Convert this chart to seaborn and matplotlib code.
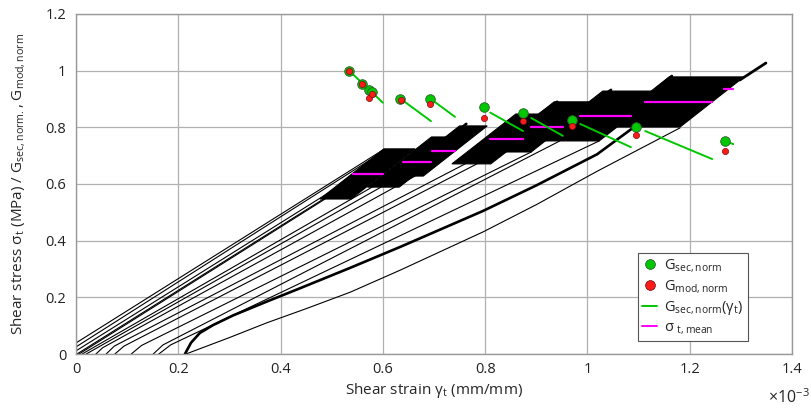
import numpy as np
import pandas as pd
import matplotlib
matplotlib.use("Agg")
import matplotlib.pyplot as plt
from matplotlib.lines import Line2D
from matplotlib.patches import Polygon
import seaborn as sns

# ---------------- data (strain in 1e-3 mm/mm, stress in MPa) ----------------
x_ticks = [0, 0.2, 0.4, 0.6, 0.8, 1.0, 1.2, 1.4]
x_tick_labels = ["0", "0.2", "0.4", "0.6", "0.8", "1", "1.2", "1.4"]
y_ticks = [0, 0.2, 0.4, 0.6, 0.8, 1.0, 1.2]
y_tick_labels = ["0", "0.2", "0.4", "0.6", "0.8", "1", "1.2"]

# loading curves (thin black)
curve_strain = {
    "U1": [0.000, 0.600], "U2": [0.000, 0.575], "U3": [0.000, 0.540],
    "U4": [0.002, 0.512], "U5": [0.006, 0.487], "U6": [0.012, 0.579],
    "U7": [0.020, 0.614], "M1": [0.039, 0.052, 0.663],
    "M2": [0.059, 0.075, 0.761], "M3": [0.076, 0.094, 0.829],
    "M4": [0.108, 0.128, 0.890], "M5": [0.151, 0.170, 0.946],
    "M6": [0.162, 0.185, 1.023],
    "LOW": [0.215, 0.300, 0.373, 0.450, 0.536, 0.634, 0.796, 0.900, 1.019, 1.181],
}
curve_stress = {
    "U1": [0.039, 0.720], "U2": [0.025, 0.685], "U3": [0.011, 0.621],
    "U4": [0.000, 0.579], "U5": [0.000, 0.547], "U6": [0.000, 0.589],
    "U7": [0.000, 0.607], "M1": [0.000, 0.022, 0.628],
    "M2": [0.000, 0.028, 0.671], "M3": [0.000, 0.028, 0.713],
    "M4": [0.000, 0.030, 0.713], "M5": [0.000, 0.032, 0.752],
    "M6": [0.000, 0.032, 0.752],
    "LOW": [0.000, 0.058, 0.110, 0.160, 0.218, 0.296, 0.431, 0.527, 0.645, 0.798],
}
# thick (noisy) loading curve
thick_strain = [0.213, 0.225, 0.242, 0.268, 0.307, 0.373, 0.438, 0.536, 0.634, 0.796, 0.900, 1.019, 1.089]
thick_stress = [0.000, 0.040, 0.074, 0.102, 0.136, 0.185, 0.232, 0.304, 0.378, 0.505, 0.595, 0.705, 0.798]

# peak excursions above the loop blocks
tail_strain = [[0.735, 0.763], [0.907, 0.941], [1.017, 1.046], [1.136, 1.165], [1.298, 1.349]]
tail_stress = [[0.770, 0.812], [0.847, 0.890], [0.893, 0.932], [0.939, 0.981], [0.967, 1.027]]

# cyclic loop blocks: bottom y, bottom x-range, top y, top x-range
blk_bot_y = [0.547, 0.589, 0.628, 0.671, 0.713, 0.752, 0.801]
blk_bot_x0 = [0.477, 0.570, 0.625, 0.735, 0.810, 0.905, 1.035]
blk_bot_x1 = [0.538, 0.632, 0.679, 0.811, 0.890, 1.023, 1.181]
blk_top_y = [0.724, 0.766, 0.805, 0.847, 0.890, 0.928, 0.978]
blk_top_x0 = [0.602, 0.695, 0.750, 0.860, 0.935, 1.030, 1.160]
blk_top_x1 = [0.663, 0.757, 0.804, 0.937, 1.015, 1.148, 1.306]

# mean stress lines
mean_x0 = [0.541, 0.639, 0.696, 0.810, 0.890, 0.986, 1.113, 1.267]
mean_x1 = [0.600, 0.694, 0.741, 0.874, 0.952, 1.085, 1.244, 1.285]
mean_sig = [0.635, 0.678, 0.717, 0.760, 0.801, 0.840, 0.890, 0.935]

# G_sec,norm(gamma_t) lines
gl_x0 = [0.534, 0.639, 0.696, 0.810, 0.890, 0.986, 1.113, 1.267]
gl_x1 = [0.600, 0.694, 0.741, 0.874, 0.952, 1.085, 1.244, 1.285]
gl_y0 = [1.000, 0.895, 0.897, 0.852, 0.833, 0.812, 0.787, 0.752]
gl_y1 = [0.887, 0.822, 0.837, 0.787, 0.770, 0.730, 0.688, 0.741]

# normalised moduli points
gsec_x = [0.534, 0.560, 0.573, 0.578, 0.634, 0.692, 0.797, 0.874, 0.970, 1.095, 1.269]
gsec_y = [1.000, 0.953, 0.932, 0.925, 0.900, 0.900, 0.871, 0.850, 0.826, 0.801, 0.752]
gmod_x = [0.534, 0.560, 0.573, 0.578, 0.636, 0.692, 0.797, 0.874, 0.970, 1.095, 1.269]
gmod_y = [1.000, 0.953, 0.904, 0.918, 0.897, 0.883, 0.834, 0.823, 0.805, 0.773, 0.717]

# ---------------- style ----------------
sns.set_style("white")
plt.rcParams["font.family"] = ["Open Sans", "DejaVu Sans"]
plt.rcParams["mathtext.fontset"] = "custom"
plt.rcParams["mathtext.rm"] = "Open Sans"
plt.rcParams["mathtext.it"] = "Open Sans"
plt.rcParams["mathtext.default"] = "regular"

GREEN = "#00c800"
RED = "#ff1a1a"
MAG = "#ff00ff"

fig = plt.figure(figsize=(8.11, 4.09), dpi=100)
ax = fig.add_axes([76 / 811, 55 / 409, 716 / 811, 340 / 409])

# thin loading curves
rows = []
for k in curve_strain:
    for i, (xv, yv) in enumerate(zip(curve_strain[k], curve_stress[k])):
        rows.append({"curve": k, "order": i, "strain": xv, "stress": yv})
df_c = pd.DataFrame(rows)
sns.lineplot(data=df_c, x="strain", y="stress", units="curve", estimator=None,
             sort=False, color="black", lw=0.8, ax=ax, legend=False)

df_t = pd.DataFrame({"strain": thick_strain, "stress": thick_stress})
sns.lineplot(data=df_t, x="strain", y="stress", sort=False, estimator=None,
             color="black", lw=1.9, ax=ax, legend=False)

rows = []
for i, (xs, ys) in enumerate(zip(tail_strain, tail_stress)):
    for xv, yv in zip(xs, ys):
        rows.append({"tail": i, "strain": xv, "stress": yv})
df_tail = pd.DataFrame(rows)
sns.lineplot(data=df_tail, x="strain", y="stress", units="tail", estimator=None,
             sort=False, color="black", lw=2.0, ax=ax, legend=False)

# loop blocks
for i in range(len(blk_bot_y)):
    poly = Polygon([(blk_bot_x0[i], blk_bot_y[i]), (blk_bot_x1[i], blk_bot_y[i]),
                    (blk_top_x1[i], blk_top_y[i]), (blk_top_x0[i], blk_top_y[i])],
                   closed=True, facecolor="black", edgecolor="black", lw=0.8, zorder=3)
    ax.add_patch(poly)

# mean stress lines
rows = []
for i in range(len(mean_sig)):
    rows.append({"seg": i, "strain": mean_x0[i], "stress": mean_sig[i]})
    rows.append({"seg": i, "strain": mean_x1[i], "stress": mean_sig[i]})
df_m = pd.DataFrame(rows)
sns.lineplot(data=df_m, x="strain", y="stress", units="seg", estimator=None,
             sort=False, color=MAG, lw=1.6, ax=ax, legend=False, zorder=4)

# G_sec lines
rows = []
for i in range(len(gl_x0)):
    rows.append({"seg": i, "strain": gl_x0[i], "g": gl_y0[i]})
    rows.append({"seg": i, "strain": gl_x1[i], "g": gl_y1[i]})
df_g = pd.DataFrame(rows)
sns.lineplot(data=df_g, x="strain", y="g", units="seg", estimator=None,
             sort=False, color=GREEN, lw=1.4, ax=ax, legend=False, zorder=5)

sns.scatterplot(x=gsec_x, y=gsec_y, s=48, color=GREEN, edgecolor="#2f5f2f",
                linewidth=0.6, ax=ax, zorder=6, legend=False)
sns.scatterplot(x=gmod_x, y=gmod_y, s=20, color=RED, edgecolor="#7a1010",
                linewidth=0.5, ax=ax, zorder=7, legend=False)

# axes cosmetics
ax.set_xlim(0, 1.4)
ax.set_ylim(0, 1.2)
ax.set_xticks(x_ticks)
ax.set_xticklabels(x_tick_labels)
ax.set_yticks(y_ticks)
ax.set_yticklabels(y_tick_labels)
ax.tick_params(length=0, labelsize=10.5, colors="#222222")
ax.tick_params(axis="x", pad=6)
ax.tick_params(axis="y", pad=7)
ax.grid(True, color="#b0b0b0", lw=0.9)
ax.set_axisbelow(True)
for s in ax.spines.values():
    s.set_visible(True)
    s.set_color("#999999")
    s.set_linewidth(1.0)

ax.set_xlabel("Shear strain γ$_t$ (mm/mm)", fontsize=11)
ax.xaxis.set_label_coords(0.5, -0.078)
ax.set_ylabel("Shear stress σ$_t$ (MPa) / G$_{sec,norm.}$, G$_{mod,norm}$", fontsize=11)
ax.yaxis.set_label_coords(-0.068, 0.5)
ax.text(1.025, -0.128, r"$\times10^{-3}$", transform=ax.transAxes,
        ha="right", va="center", fontsize=11.5)

handles = [
    Line2D([], [], ls="none", marker="o", ms=7, mfc=GREEN, mec="#2f5f2f", mew=0.6),
    Line2D([], [], ls="none", marker="o", ms=7, mfc=RED, mec="#7a1010", mew=0.6),
    Line2D([], [], color=GREEN, lw=1.4),
    Line2D([], [], color=MAG, lw=1.4),
]
labels = ["G$_{sec,norm}$", "G$_{mod,norm}$", "G$_{sec,norm}$(γ$_t$)", "σ $_{t,mean}$"]
leg = ax.legend(handles, labels, loc="lower left", bbox_to_anchor=(0.785, 0.038),
                fontsize=10.5, frameon=True, fancybox=False, framealpha=1,
                edgecolor="#555555", handlelength=1.0, handletextpad=0.5,
                borderpad=0.3, labelspacing=0.25, borderaxespad=0)
leg.get_frame().set_linewidth(0.8)

fig.savefig("out.png", dpi=100)
